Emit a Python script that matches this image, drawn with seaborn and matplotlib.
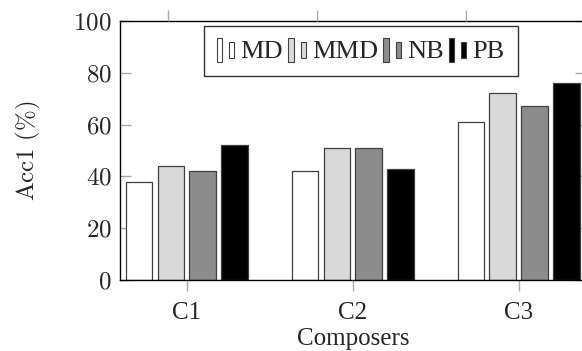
import pandas as pd
import numpy as np
import matplotlib
matplotlib.use("Agg")
import matplotlib.pyplot as plt
import seaborn as sns
from matplotlib.patches import Rectangle
from matplotlib.legend_handler import HandlerBase

# data
composers = ["C1", "C2", "C3"]
methods = ["MD", "MMD", "NB", "PB"]
md = [38, 42, 61]
mmd = [44, 51, 72]
nb = [42, 51, 67]
pb = [52, 43, 76]

bar_colors = ["#ffffff", "#d9d9d9", "#8c8c8c", "#000000"]

rows = []
for m, vals in zip(methods, [md, mmd, nb, pb]):
    for c, v in zip(composers, vals):
        rows.append({"Composer": c, "Method": m, "Acc": v})
df = pd.DataFrame(rows)

sns.set_style("white")
plt.rcParams["font.family"] = ["Liberation Serif", "DejaVu Serif"]
plt.rcParams["mathtext.fontset"] = "cm"


# pgfplots-like legend image: two small bars
class TwoBars(HandlerBase):
    def create_artists(self, legend, orig_handle, xdescent, ydescent,
                       width, height, fontsize, trans):
        fc = orig_handle.get_facecolor()
        ec = "#404040"
        r1 = Rectangle((-xdescent, -ydescent - 0.2 * height), width * 0.28, height * 1.3,
                       facecolor=fc, edgecolor=ec, lw=0.8, transform=trans)
        r2 = Rectangle((-xdescent + width * 0.62, -ydescent), width * 0.26, height * 0.85,
                       facecolor=fc, edgecolor=ec, lw=0.8, transform=trans)
        return [r1, r2]


fig = plt.figure(figsize=(5.82, 3.51), dpi=100)
ax = fig.add_axes([0.206, 0.2023, 0.8007, 0.738])

sns.barplot(data=df, x="Composer", y="Acc", hue="Method", palette=bar_colors,
            width=0.77, gap=0.16, edgecolor="#404040", linewidth=0.9,
            saturation=1, ax=ax, legend=False)

ax.set_ylim(0, 100)
ax.set_xlim(-0.404, 2.404)
ax.set_yticks([0, 20, 40, 60, 80, 100])
ax.set_yticklabels([f"${v}$" for v in [0, 20, 40, 60, 80, 100]])
ax.tick_params(axis="y", direction="in", length=8, width=1, color="#a8a8a8",
               labelsize=18, right=True, left=True, pad=6)
ax.tick_params(axis="x", direction="out", length=8, width=1, color="#a8a8a8",
               labelsize=18, pad=8)
for s in ax.spines.values():
    s.set_color("black")
    s.set_linewidth(1)

ax.set_xlabel("Composers", fontsize=18, labelpad=3)
ax.set_ylabel(r"$\mathrm{Acc1\ (\%)}$", fontsize=18, labelpad=22)

# ticks of the plot above, visible at the top edge
top = ax.twiny()
top.set_xlim(ax.get_xlim())
top.set_xticks([-0.114, 0.783, 1.681])
top.set_xticklabels([])
top.tick_params(axis="x", direction="out", length=8, width=1, color="#a8a8a8")
for s in top.spines.values():
    s.set_visible(False)

handles = [Rectangle((0, 0), 1, 1, facecolor=c) for c in bar_colors]
leg = ax.legend(handles, methods, handler_map={Rectangle: TwoBars()},
                loc="upper right", bbox_to_anchor=(0.890, 0.925),
                bbox_transform=fig.transFigure, ncol=4, fontsize=19,
                frameon=True, fancybox=False, edgecolor="black",
                handlelength=0.75, handletextpad=0.15, columnspacing=0.2,
                borderpad=0.5, borderaxespad=0)
leg.get_frame().set_linewidth(1)

fig.savefig("out.png", dpi=100)
